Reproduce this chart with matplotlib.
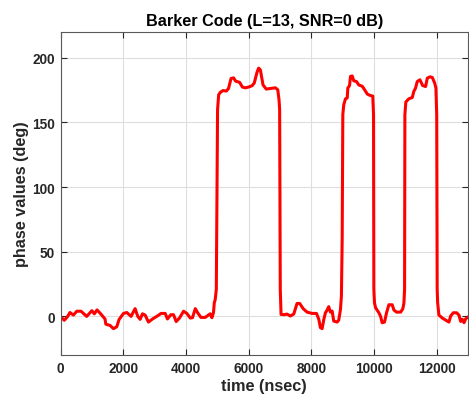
import matplotlib.pyplot as plt
import numpy as np

# phase trace (time in nsec, phase in deg)
t = [0, 120, 230, 300, 410, 520, 655, 835, 1000, 1080, 1165, 1270, 1420, 1445,
     1580, 1690, 1795, 1870, 2010, 2115, 2250, 2380, 2465, 2540, 2615, 2700,
     2805, 2935, 3070, 3210, 3340, 3410, 3520, 3605, 3690, 3795, 3925, 4030,
     4140, 4210, 4300, 4370, 4480, 4615, 4720, 4775, 4830, 4880, 4905, 4935,
     4970, 5010, 5045, 5095, 5180, 5290, 5360, 5440, 5520, 5585, 5715, 5800,
     5895, 6000, 6110, 6180, 6270, 6320, 6375, 6460, 6565, 6695, 6855, 6930,
     6970, 6990, 7010, 7035, 7140, 7225, 7330, 7440, 7545, 7630, 7740, 7865,
     8025, 8165, 8240, 8290, 8345, 8400, 8450, 8505, 8555, 8610, 8665, 8715,
     8825, 8875, 8930, 8960, 8985, 9005, 9035, 9090, 9145, 9165, 9220, 9250,
     9305, 9355, 9440, 9515, 9625, 9700, 9785, 9865, 9960, 9985, 9995, 10015,
     10050, 10155, 10210, 10260, 10335, 10400, 10475, 10580, 10635, 10720,
     10850, 10920, 10955, 10975, 10985, 11015, 11110, 11220, 11270, 11325,
     11380, 11465, 11550, 11645, 11700, 11785, 11860, 11935, 11975, 12000,
     12015, 12030, 12070, 12180, 12285, 12390, 12445, 12530, 12635, 12710,
     12765, 12820, 12870, 12925, 12980, 13000]
phase = [0, -3, 0, 3, 1, 4, 4, 0, 4.4, 2, 5, 2.3, -2, -6,
         -7, -9.5, -8, -2.3, 2.3, 3, 0, 6, 0, -2.3, 2, 1,
         -4.4, -2, 0, 2.3, 2.3, -2, 1.3, 1.3, -4, -1.3, 4, 2.3,
         -1.3, -1, 6, 3, -0.8, -0.8, 1, 2, -1, 3, 10.5, 13,
         21, 160, 171.4, 173.2, 174.7, 174.3, 176.3, 184, 184.5, 182, 181, 177.4,
         176.8, 177.4, 178.4, 180.5, 189, 192, 190.7, 179, 175.8, 176.3, 176.8, 175.3,
         167.6, 160, 21, 1.5, 1.3, 1.8, 0.3, 1.8, 10, 10, 6, 3.3,
         2.3, 2.3, -2.3, -8.7, -9.5, -2.3, 2.8, 4.9, 7.5, 3.3, 4.1, -3.6,
         -4.4, -2.9, 5.4, 15.7, 60, 156, 163.7, 168.3, 168.9, 176.6, 178.6, 185.6,
         186, 182.2, 181.7, 179, 178, 175.3, 172, 171, 170.4, 156, 21, 10.5,
         6.7, 2.8, 0, -4.9, -4.4, 2.8, 9, 9, 4.9, 3.3,
         3.3, 6, 10.5, 21, 156, 165.8, 168.3, 169.3, 174, 176.6,
         181.7, 183, 178.6, 177.8, 184.3, 185.3, 184.8, 180.5, 176.6, 156,
         21, 10.5, 1, -1.3, -2.9, -4.4, 0.3, 2.8, 2.8, 1,
         -3.9, -2.3, -4.9, -1.8, -0.8, -0.5]

dark = '0.15'
plt.rcParams['font.family'] = ['Liberation Sans', 'DejaVu Sans']
plt.rcParams['font.weight'] = 'bold'

fig = plt.figure(figsize=(4.69, 4.02), dpi=100)
ax = fig.add_axes([0.129, 0.114, 0.869, 0.804])

ax.plot(t, phase, color='red', linewidth=2.2)

ax.set_xlim(0, 13000)
ax.set_ylim(-30, 220)
ax.set_xticks(np.arange(0, 13000, 2000))
ax.set_yticks(np.arange(0, 201, 50))
ax.grid(True, color='0.87', linewidth=0.8)
ax.set_axisbelow(True)

ax.tick_params(direction='in', length=4, width=0.8, colors=dark,
               labelsize=9.8, top=True, right=True, pad=4)
for lab in ax.get_xticklabels() + ax.get_yticklabels():
    lab.set_fontweight('bold')
for sp in ax.spines.values():
    sp.set_color('0.35')
    sp.set_linewidth(0.8)

ax.set_xlabel('time (nsec)', fontsize=11.7, fontweight='bold', color=dark, labelpad=2)
ax.set_ylabel('phase values (deg)', fontsize=11.7, fontweight='bold', color=dark, labelpad=2)
ax.set_title('Barker Code (L=13, SNR=0 dB)', fontsize=11.7, fontweight='bold', color='black', pad=5)

fig.savefig('out.png', dpi=100)
